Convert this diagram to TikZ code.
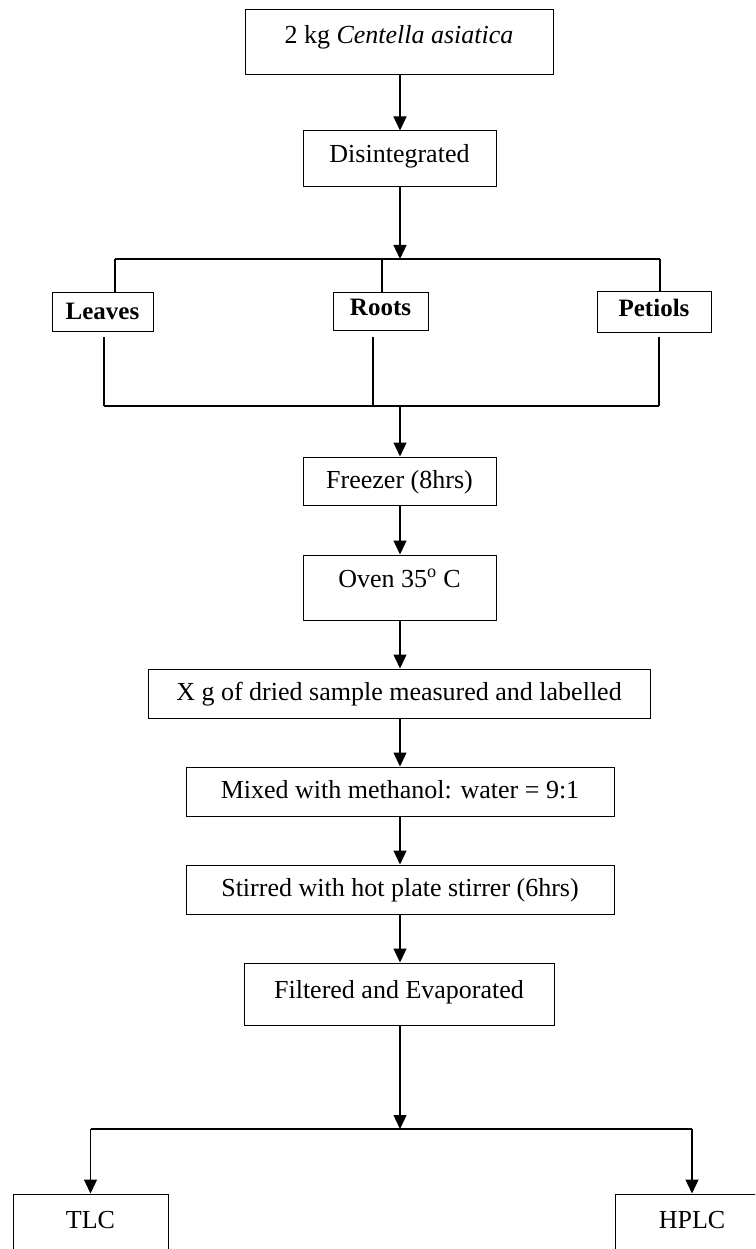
\documentclass[tikz,border=0pt]{standalone}
\usepackage{fontspec}
\setmainfont{Liberation Serif}
\usetikzlibrary{arrows.meta}
\begin{document}
\begin{tikzpicture}[x=1pt,y=-1pt,
  box/.style={draw, line width=1pt, inner sep=0pt, text height=17pt, text depth=3pt, font=\fontsize{26}{30}\selectfont},
  bbox/.style={box, font=\fontsize{25}{30}\selectfont\bfseries},
  arr/.style={-{Triangle[length=14pt,width=13pt]}, line width=1.3pt},
  ln/.style={line width=1.3pt}]
\useasboundingbox (0,0) rectangle (755,1249);
\clip (0,0) rectangle (755,1249);
% boxes
\node[box, minimum width=308pt, minimum height=65pt, text depth=15pt] (n1) at (399,42.5) {2 kg \textit{Centella asiatica}};
\node[box, minimum width=193pt, minimum height=56pt, text depth=10pt] (dis) at (399.5,159) {Disintegrated};
\node[bbox, minimum width=101pt, minimum height=39pt, text depth=2pt] (leaves) at (102.5,311.5) {Leaves};
\node[bbox, minimum width=95pt, minimum height=38pt, text depth=9pt] (roots) at (380.5,311) {Roots};
\node[bbox, minimum width=114pt, minimum height=41pt, text depth=7pt] (petiols) at (654,311.5) {Petiols};
\node[box, minimum width=193pt, minimum height=48pt, text depth=2pt] (freezer) at (399.5,481) {Freezer (8hrs)};
\node[box, minimum width=193pt, minimum height=65pt, text depth=18pt] (oven) at (399.5,587.5) {Oven 35\textsuperscript{o} C};
\node[box, minimum width=502pt, minimum height=49pt] (xg) at (399,693.5) {X g of dried sample measured and labelled};
\node[box, minimum width=428pt, minimum height=49pt] (mixed) at (400,791.5) {Mixed with methanol: water = 9:1};
\node[box, minimum width=428pt, minimum height=49pt] (stirred) at (400,889.5) {Stirred with hot plate stirrer (6hrs)};
\node[box, minimum width=310pt, minimum height=62pt, text depth=8pt] (filt) at (399,994) {Filtered and Evaporated};
\node[box, minimum width=155pt, minimum height=68pt, text depth=17pt] (tlc) at (90.5,1228) {TLC};
\node[box, minimum width=154pt, minimum height=68pt, text depth=17pt] (hplc) at (692,1228) {HPLC};
% junction coordinates
\coordinate (s1) at (400,259);
\coordinate (sL) at (115,259);
\coordinate (sM) at (382,259);
\coordinate (sR) at (660,259);
\coordinate (jL) at (104,406);
\coordinate (jM) at (373,406);
\coordinate (jR) at (659,406);
\coordinate (j1) at (400,406);
\coordinate (s2) at (400,1129);
\coordinate (s2L) at (90.5,1129);
\coordinate (s2R) at (692,1129);
% connectors
\draw[arr] (n1.south -| s1) -- (dis.north -| s1);
\draw[arr] (dis.south -| s1) -- (s1);
\draw[ln] (sL) -- (sR);
\draw[ln] (sL) -- (sL |- leaves.north);
\draw[ln] (sM) -- (sM |- roots.north);
\draw[ln] (sR) -- (sR |- petiols.north);
\draw[ln] (jL |- 0,337) -- (jL);
\draw[ln] (jM |- 0,337) -- (jM);
\draw[ln] (jR |- 0,337) -- (jR);
\draw[ln] (jL) -- (jR);
\draw[arr] (j1) -- (j1 |- freezer.north);
\draw[arr] (freezer.south -| j1) -- (oven.north -| j1);
\draw[arr] (oven.south -| j1) -- (xg.north -| j1);
\draw[arr] (xg.south -| j1) -- (mixed.north -| j1);
\draw[arr] (mixed.south -| j1) -- (stirred.north -| j1);
\draw[arr] (stirred.south -| j1) -- (filt.north -| j1);
\draw[arr] (filt.south -| s2) -- (s2);
\draw[ln] (s2L) -- (s2R);
\draw[arr] (s2L) -- (tlc.north);
\draw[arr] (s2R) -- (hplc.north);
\end{tikzpicture}
\end{document}
